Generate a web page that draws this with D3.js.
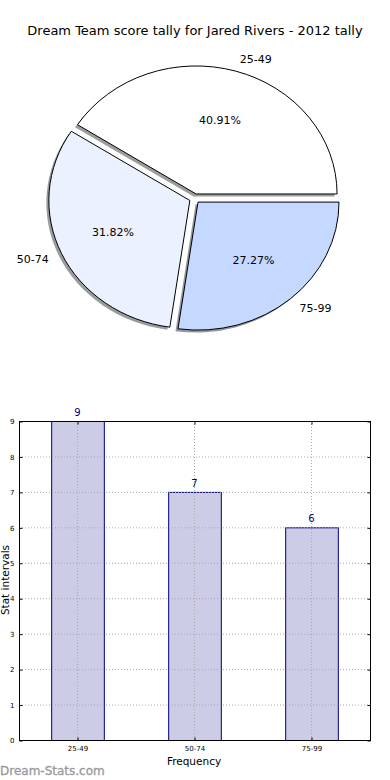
<!DOCTYPE html>
<html><head><meta charset="utf-8">
<script src="https://cdn.jsdelivr.net/npm/d3@7"></script>
<style>body{margin:0;background:#fff;}svg{display:block;font-family:"DejaVu Sans",sans-serif;}</style>
</head><body>
<script>
const title = "Dream Team score tally for Jared Rivers - 2012 tally";
const categories = ["25-49", "50-74", "75-99"];
const counts = [9, 7, 6];
const pieColors = ["#ffffff", "#ebf1ff", "#c5d8ff"];
const yTicks = [0,1,2,3,4,5,6,7,8,9];
const xLabel = "Frequency";
const yLabel = "Stat intervals";
const watermark = "Dream-Stats.com";

const W = 390, H = 780;
const svg = d3.select("body").append("svg").attr("width", W).attr("height", H);

svg.append("text").attr("x", 195).attr("y", 35).attr("text-anchor", "middle")
  .attr("font-size", 13).attr("fill", "#000").text(title);

// ---- Pie ----
const cx = 194.6, cy = 198.5, rx = 141, ry = 128, explode = 0.037;
const total = d3.sum(counts);
const pie = d3.pie().sort(null).startAngle(Math.PI/2).endAngle(Math.PI/2 - 2*Math.PI);
const arcs = pie(counts);
const arc = d3.arc().innerRadius(0).outerRadius(1);
const g = svg.append("g");
function off(d){ const a=(d.startAngle+d.endAngle)/2; return [Math.sin(a)*explode, -Math.cos(a)*explode]; }

// shadows
arcs.forEach((d,i)=>{
  const o = off(d);
  const c = d3.color(pieColors[i]);
  g.append("g").attr("transform", `translate(${cx-2.5},${cy+2.5}) scale(${rx},${ry})`)
   .append("path").attr("d", arc(d)).attr("transform", `translate(${o[0]},${o[1]})`)
   .attr("fill", d3.rgb(c.r*0.3, c.g*0.3, c.b*0.3)).attr("fill-opacity", 0.55);
});
arcs.forEach((d,i)=>{
  const o = off(d);
  g.append("g").attr("transform", `translate(${cx},${cy}) scale(${rx},${ry})`)
   .append("path").attr("d", arc(d)).attr("transform", `translate(${o[0]},${o[1]})`)
   .attr("fill", pieColors[i]).attr("stroke", "#000").attr("stroke-width", 1)
   .attr("vector-effect", "non-scaling-stroke");
});
arcs.forEach((d,i)=>{
  const a=(d.startAngle+d.endAngle)/2, o=off(d);
  const ux=Math.sin(a), uy=-Math.cos(a);
  const ax = cx + o[0]*rx, ay = cy + o[1]*ry;
  svg.append("text").attr("x", ax + 1.1*rx*ux).attr("y", ay + 1.1*ry*uy)
    .attr("dy", "0.35em").attr("text-anchor", ux>0 ? "start":"end")
    .attr("font-size", 11).attr("fill", "#000").text(categories[i]);
  svg.append("text").attr("x", ax + 0.6*rx*ux).attr("y", ay + 0.6*ry*uy)
    .attr("dy", "0.35em").attr("text-anchor", "middle")
    .attr("font-size", 11).attr("fill", "#000").text((counts[i]/total*100).toFixed(2)+"%");
});

// ---- Bar chart ----
const L = 19, R = 370, T = 421, B = 740;
const x = d3.scaleBand().domain(categories).range([L, R]).paddingInner(0.55).paddingOuter(0.275);
const y = d3.scaleLinear().domain([0, 9]).range([B, T]);

svg.append("g").selectAll("rect").data(counts).join("rect")
  .attr("x", (d,i)=>x(categories[i])+0.5).attr("y", d=>y(d)+0.5)
  .attr("width", x.bandwidth()).attr("height", d=>B-y(d))
  .attr("fill", "#ccccE6").attr("stroke", "#000080").attr("stroke-width", 1);

const grid = svg.append("g").attr("stroke", "#aaa").attr("stroke-width", 1).attr("stroke-dasharray", "1,2");
yTicks.forEach(t => grid.append("line").attr("x1", L).attr("x2", R).attr("y1", y(t)+0.5).attr("y2", y(t)+0.5));
categories.forEach(c => grid.append("line").attr("x1", Math.round(x(c)+x.bandwidth()/2)+0.5).attr("x2", Math.round(x(c)+x.bandwidth()/2)+0.5).attr("y1", T).attr("y2", B));

svg.append("g").selectAll("text").data(counts).join("text")
  .attr("x", (d,i)=>x(categories[i])+x.bandwidth()/2).attr("y", d=>y(d)-5)
  .attr("text-anchor", "middle").attr("font-size", 10).attr("fill", "#000080").text(d=>d);

svg.append("rect").attr("x", L+0.5).attr("y", T+0.5).attr("width", R-L).attr("height", B-T)
  .attr("fill", "none").attr("stroke", "#000").attr("stroke-width", 1);

const yAxis = d3.axisLeft(y).tickValues(yTicks).tickSize(-3).tickPadding(5).tickFormat(d3.format("d"));
const ya = svg.append("g").attr("transform", `translate(${L+0.5},0.5)`).call(yAxis);
ya.select(".domain").remove();
ya.selectAll("text").attr("font-size", 7).attr("font-family", "DejaVu Sans");
const ya2 = svg.append("g").attr("transform", `translate(${R+0.5},0.5)`).call(d3.axisRight(y).tickValues(yTicks).tickSize(-3).tickFormat(""));
ya2.select(".domain").remove();

const xAxis = d3.axisBottom(x).tickSize(-3).tickPadding(6);
const xa = svg.append("g").attr("transform", `translate(0.5,${B+0.5})`).call(xAxis);
xa.select(".domain").remove();
xa.selectAll("text").attr("font-size", 7).attr("font-family", "DejaVu Sans");
const xa2 = svg.append("g").attr("transform", `translate(0.5,${T+0.5})`).call(d3.axisTop(x).tickSize(-3).tickFormat(""));
xa2.select(".domain").remove();

svg.append("text").attr("x", 194).attr("y", 765).attr("text-anchor", "middle").attr("font-size", 10.5).text(xLabel);
svg.append("text").attr("transform", "translate(9,580) rotate(-90)").attr("text-anchor", "middle").attr("font-size", 10.5).text(yLabel);

svg.append("text").attr("x", 0).attr("y", 775).attr("font-size", 12)
  .attr("fill", "#999").attr("stroke", "#999").attr("stroke-width", 0.3).text(watermark);
</script>
</body></html>
